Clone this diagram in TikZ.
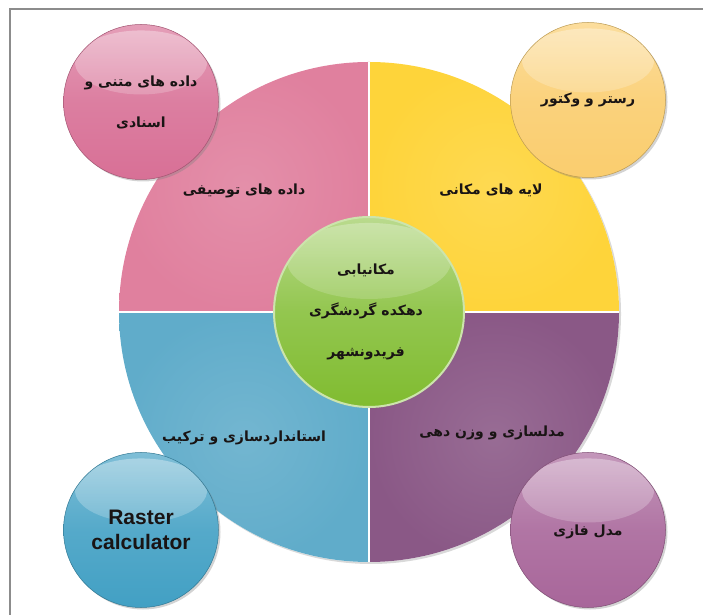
\documentclass[tikz,border=0pt]{standalone}
\usepackage{fontspec}
\setmainfont{Liberation Sans}
\newfontfamily\farsi[Script=Arabic]{DejaVu Sans}
\TeXXeTstate=1
\usetikzlibrary{shadows,fadings}

% Colores de los cuadrantes y burbujas
\definecolor{rosaQ}{RGB}{224,128,158}
\definecolor{amarilloQ}{RGB}{254,212,58}
\definecolor{azulQ}{RGB}{96,172,202}
\definecolor{moradoQ}{RGB}{138,88,134}
\definecolor{rosaB}{RGB}{216,112,150}
\definecolor{amarilloB}{RGB}{250,205,110}
\definecolor{azulB}{RGB}{66,160,196}
\definecolor{moradoB}{RGB}{168,102,154}
\definecolor{verdeN}{RGB}{128,188,48}
\definecolor{tinta}{RGB}{25,20,20}

\tikzfading[name=brillo, top color=transparent!20, bottom color=transparent!100]

\tikzset{
  rotulo/.style={font=\farsi\bfseries\fontsize{14}{41}\selectfont, text=tinta, align=center},
  burbuja/.style={circle, minimum size=155pt, inner sep=0pt,
    top color=#1!68!white, bottom color=#1, middle color=#1!90!white,
    draw=#1!75!black, line width=0.5pt,
    drop shadow={opacity=0.35, shadow xshift=2pt, shadow yshift=-2pt},
    path picture={\fill[white, opacity=0.45, path fading=brillo]
      ([yshift=-38pt]path picture bounding box.north) ellipse [x radius=66pt, y radius=32pt];}}
}

\begin{document}
\begin{tikzpicture}[x=1pt, y=1pt]

    \useasboundingbox (0,0) rectangle (703,615);

    % Marco
    \draw[gray!90, line width=1.3pt] (703,606) -- (10,606) -- (10,0);

    % Circulo grande con sombra
    \coordinate (centro) at (369,303);
    \path[fill=white, drop shadow={opacity=0.3, shadow xshift=2pt, shadow yshift=-2pt}]
        (centro) circle [radius=250];

    % Cuadrantes
    \foreach \ang/\col in {0/amarilloQ, 90/rosaQ, 180/azulQ, 270/moradoQ}
        \shade[inner color=\col!88!white, outer color=\col]
            (centro) -- ++(\ang:250) arc[start angle=\ang, end angle=\ang+90, radius=250] -- cycle;
    \foreach \ang in {0,90,180,270}
        \draw[white, line width=1.8pt] (centro) -- ++(\ang:250);

    % Nucleo
    \node[circle, minimum size=190pt, inner sep=0pt, top color=verdeN!55!white, bottom color=verdeN,
          middle color=verdeN!85!white, draw=verdeN!40!white, line width=2pt,
          path picture={\fill[white, opacity=0.35, path fading=brillo]
            ([yshift=-44pt]path picture bounding box.north) ellipse [x radius=82pt, y radius=38pt];}]
        (nucleo) at (centro) {};
    \node[rotulo] (tema) at (366,303) {\beginR مکانیابی\endR\\ \beginR دهکده گردشگری\endR\\ \beginR فریدونشهر\endR};

    % Burbujas
    \node[burbuja=rosaB] (textos) at (141,513) {};
    \node[burbuja=amarilloB] (formato) at (588,515) {};
    \node[burbuja=azulB] (calc) at (141,85) {};
    \node[burbuja=moradoB] (fazi) at (588,85) {};

    \node[rotulo] (txt1) at (textos) {\beginR داده های متنی و\endR\\ \beginR اسنادی\endR};
    \node[rotulo] (txt2) at (formato) {\beginR رستر و وکتور\endR};
    \node[font=\bfseries\fontsize{21}{25}\selectfont, text=tinta, align=center] (txt3) at (calc) {Raster\\calculator};
    \node[rotulo] (txt4) at ([yshift=-2pt]fazi) {\beginR مدل فازی\endR};

    % Etiquetas de los cuadrantes
    \node[rotulo] (cuad1) at (491,425) {\beginR لایه های مکانی\endR};
    \node[rotulo] (cuad2) at (244,424) {\beginR داده های توصیفی\endR};
    \node[rotulo] (cuad3) at (244,177) {\beginR استانداردسازی و ترکیب\endR};
    \node[rotulo] (cuad4) at (492,182) {\beginR مدلسازی و وزن دهی\endR};

\end{tikzpicture}
\end{document}
